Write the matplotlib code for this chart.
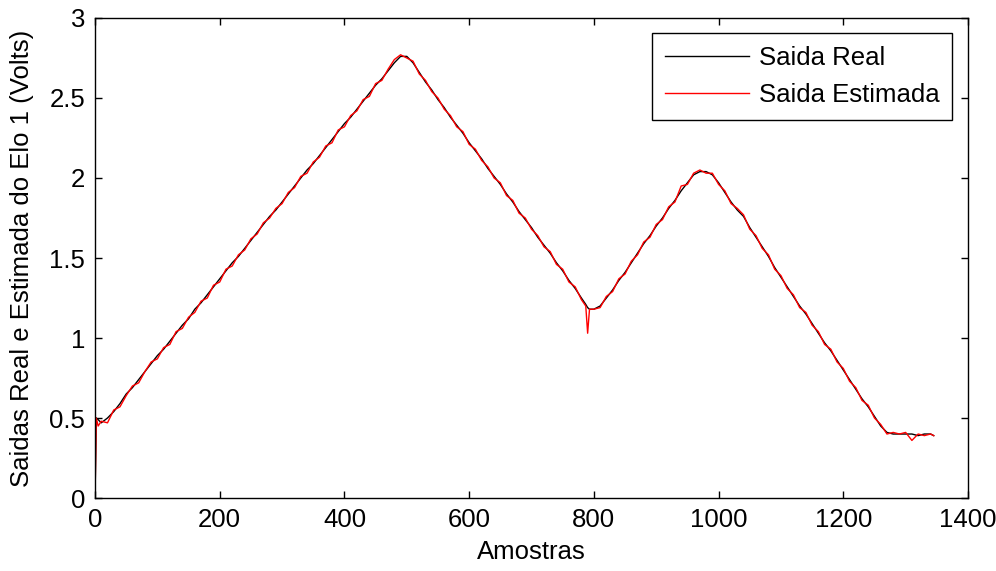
import matplotlib
matplotlib.use('Agg')
import matplotlib.pyplot as plt

plt.rcParams['font.family'] = ['Liberation Sans', 'DejaVu Sans']

# Amostras (indice da amostra)
amostras = [0, 2, 5, *range(10, 781, 10), 787, 790, 793, *range(800, 1341, 10), 1345]

# Saida real do elo 1 (Volts)
saida_real = [
    0.00, 0.50, 0.49,
    0.47, 0.50, 0.54, 0.59, 0.65, 0.69, 0.74, 0.79, 0.84, 0.89,
    0.93, 0.98, 1.03, 1.08, 1.12, 1.18, 1.22, 1.27, 1.32, 1.37,
    1.42, 1.47, 1.51, 1.56, 1.61, 1.66, 1.71, 1.76, 1.80, 1.85,
    1.90, 1.95, 2.00, 2.05, 2.09, 2.14, 2.19, 2.24, 2.29, 2.34,
    2.38, 2.43, 2.48, 2.53, 2.58, 2.62, 2.67, 2.72, 2.76, 2.76,
    2.72, 2.66, 2.60, 2.55, 2.49, 2.44, 2.38, 2.33, 2.28, 2.22,
    2.17, 2.12, 2.06, 2.01, 1.96, 1.90, 1.85, 1.79, 1.74, 1.69,
    1.63, 1.58, 1.53, 1.47, 1.42, 1.36, 1.31, 1.25,
    1.21, 1.19, 1.18,
    1.18, 1.20, 1.25, 1.30, 1.36, 1.41, 1.47, 1.53, 1.59, 1.64,
    1.70, 1.75, 1.81, 1.86, 1.92, 1.97, 2.02, 2.04, 2.04, 2.02,
    1.97, 1.91, 1.85, 1.80, 1.76, 1.69, 1.63, 1.57, 1.51, 1.44,
    1.38, 1.32, 1.26, 1.20, 1.15, 1.09, 1.03, 0.97, 0.92, 0.86,
    0.80, 0.74, 0.68, 0.62, 0.57, 0.51, 0.45, 0.41, 0.40, 0.40,
    0.40, 0.40, 0.39, 0.40, 0.40, 0.39]

# Saida estimada do elo 1 (Volts)
saida_estimada = [
    0.00, 0.50, 0.45,
    0.48, 0.47, 0.55, 0.57, 0.64, 0.70, 0.72, 0.79, 0.85, 0.87,
    0.94, 0.96, 1.04, 1.06, 1.13, 1.16, 1.23, 1.25, 1.33, 1.35,
    1.43, 1.45, 1.52, 1.55, 1.62, 1.65, 1.72, 1.75, 1.81, 1.84,
    1.91, 1.94, 2.01, 2.03, 2.10, 2.13, 2.20, 2.22, 2.30, 2.32,
    2.39, 2.42, 2.49, 2.51, 2.59, 2.61, 2.68, 2.74, 2.77, 2.75,
    2.73, 2.65, 2.61, 2.54, 2.50, 2.43, 2.39, 2.32, 2.29, 2.21,
    2.18, 2.11, 2.07, 2.00, 1.97, 1.89, 1.86, 1.78, 1.75, 1.68,
    1.64, 1.57, 1.54, 1.46, 1.43, 1.35, 1.32, 1.24,
    1.20, 1.03, 1.18,
    1.18, 1.19, 1.26, 1.29, 1.37, 1.40, 1.48, 1.52, 1.60, 1.63,
    1.71, 1.74, 1.82, 1.85, 1.95, 1.96, 2.03, 2.05, 2.03, 2.03,
    1.96, 1.92, 1.84, 1.81, 1.77, 1.68, 1.64, 1.56, 1.52, 1.43,
    1.39, 1.31, 1.27, 1.19, 1.16, 1.08, 1.04, 0.96, 0.93, 0.85,
    0.81, 0.73, 0.69, 0.61, 0.58, 0.50, 0.46, 0.40, 0.41, 0.40,
    0.41, 0.36, 0.40, 0.39, 0.40, 0.39]

xticks = [0, 200, 400, 600, 800, 1000, 1200, 1400]
yticks = [0, 0.5, 1, 1.5, 2, 2.5, 3]
ytick_labels = ['0', '0.5', '1', '1.5', '2', '2.5', '3']

FS = 18.5

fig = plt.figure(figsize=(9.96, 5.71), dpi=100)
ax = fig.add_axes([0.0954, 0.1278, 0.8765, 0.8407])

ax.plot(amostras, saida_real, color='black', lw=1.0, label='Saida Real')
ax.plot(amostras, saida_estimada, color='red', lw=1.0, label='Saida Estimada')

ax.set_xlim(0, 1400)
ax.set_ylim(0, 3)
ax.set_xticks(xticks)
ax.set_xticklabels([str(t) for t in xticks])
ax.set_yticks(yticks)
ax.set_yticklabels(ytick_labels)
ax.tick_params(direction='in', length=5, width=1, labelsize=FS,
               top=True, right=True, pad=7)
for s in ax.spines.values():
    s.set_linewidth(1.0)

ax.set_xlabel('Amostras', fontsize=FS, labelpad=6)
ax.set_ylabel('Saidas Real e Estimada do Elo 1 (Volts)', fontsize=FS, labelpad=11)

leg = ax.legend(loc='upper right', bbox_to_anchor=(0.9817, 0.9688),
                fontsize=FS, fancybox=False, framealpha=1, edgecolor='black',
                borderaxespad=0, handlelength=3.27, handletextpad=0.39,
                labelspacing=0.5, borderpad=0.5)
leg.get_frame().set_linewidth(1.0)
for line in leg.get_lines():
    line.set_linewidth(1.0)

fig.savefig('out.png', dpi=100)
